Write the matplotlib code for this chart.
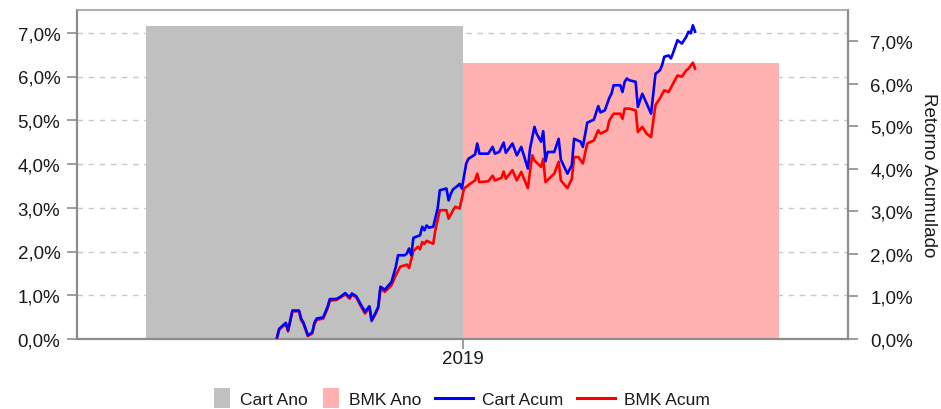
import matplotlib
matplotlib.use("Agg")
import matplotlib.pyplot as plt
from matplotlib.patches import Patch, Rectangle
from matplotlib.lines import Line2D
from matplotlib.legend_handler import HandlerPatch
from matplotlib.ticker import FuncFormatter, FixedLocator

plt.rcParams['font.family'] = ['Liberation Sans', 'DejaVu Sans']

# ---- data ----
categorias = ["2019"]
cart_ano = [7.16]
bmk_ano = [6.32]

dias_cart = [0, 1, 4, 5, 7, 10, 11, 12, 14, 16, 17, 18, 21, 23, 24, 27, 29, 31, 33, 34,
             36, 38, 40, 42, 43, 45, 46, 47, 49, 52, 54, 55, 58, 59, 60, 61, 62, 65, 66, 67,
             68, 69, 71, 73, 74, 77, 78, 79, 80, 82, 83, 84, 86, 87, 90, 91, 92, 96, 98, 99,
             101, 103, 104, 107, 109, 111, 114, 115, 117, 118, 120, 121, 122, 123, 126, 128, 129, 132, 134, 135,
             138, 139, 141, 144, 146, 147, 149, 151, 152, 153, 156, 157, 158, 159, 160, 163, 164, 166, 168, 170,
             171, 172, 174, 175, 176, 178, 179, 180, 182, 184, 186, 187, 188, 189, 190]
cart_acum = [0.04, 0.24, 0.38, 0.20, 0.67, 0.67, 0.47, 0.39, 0.09, 0.15, 0.38, 0.48, 0.51, 0.76, 0.94, 0.94, 1.00, 1.08, 0.98, 1.07,
             1.01, 0.82, 0.64, 0.77, 0.44, 0.64, 0.76, 1.23, 1.16, 1.34, 1.70, 1.97, 1.97, 2.01, 2.13, 1.97, 2.38, 2.44, 2.64, 2.56,
             2.67, 2.62, 2.64, 3.07, 3.50, 3.54, 3.26, 3.42, 3.52, 3.60, 3.65, 3.54, 4.13, 4.24, 4.34, 4.60, 4.36, 4.36, 4.52, 4.36,
             4.40, 4.62, 4.38, 4.60, 4.32, 4.52, 4.01, 4.48, 4.99, 4.83, 4.64, 4.89, 4.18, 4.40, 4.40, 4.71, 4.22, 3.89, 4.09, 4.71,
             4.64, 4.52, 5.09, 5.16, 5.48, 5.33, 5.38, 5.67, 5.77, 5.97, 5.97, 5.81, 6.05, 6.13, 6.09, 6.05, 5.46, 5.77, 5.54, 5.30,
             5.77, 6.24, 6.32, 6.44, 6.64, 6.67, 6.60, 6.73, 7.03, 6.95, 7.11, 7.23, 7.19, 7.38, 7.23]

dias_bmk = [0, 1, 4, 5, 7, 10, 11, 12, 14, 16, 17, 18, 21, 23, 24, 27, 29, 31, 33, 34,
            36, 38, 40, 42, 43, 45, 46, 47, 49, 52, 54, 56, 59, 60, 62, 64, 65, 66, 67, 68,
            71, 72, 74, 77, 78, 80, 81, 83, 85, 88, 90, 91, 92, 96, 98, 99, 102, 103, 104, 107,
            109, 111, 114, 116, 117, 120, 121, 122, 126, 128, 129, 132, 134, 135, 137, 139, 141, 144, 146, 147,
            150, 151, 153, 156, 157, 158, 160, 163, 164, 166, 168, 170, 172, 174, 176, 178, 180, 182, 184, 186,
            187, 189, 190]
bmk_acum = [0.03, 0.22, 0.36, 0.18, 0.65, 0.65, 0.44, 0.36, 0.07, 0.13, 0.35, 0.45, 0.48, 0.72, 0.90, 0.92, 0.98, 1.05, 0.95, 1.04,
            0.98, 0.78, 0.60, 0.74, 0.42, 0.61, 0.73, 1.18, 1.11, 1.26, 1.50, 1.70, 1.75, 1.67, 2.07, 2.17, 2.11, 2.28, 2.24, 2.31,
            2.24, 2.57, 3.03, 3.03, 2.83, 3.03, 3.11, 3.07, 3.54, 3.66, 3.73, 3.89, 3.69, 3.71, 3.84, 3.73, 3.79, 3.94, 3.77, 3.97,
            3.73, 3.93, 3.55, 4.32, 4.20, 4.05, 4.24, 3.69, 3.89, 4.17, 3.73, 3.55, 3.77, 4.28, 4.28, 4.13, 4.60, 4.67, 4.91, 4.83,
            4.91, 5.14, 5.30, 5.30, 5.18, 5.42, 5.42, 5.38, 4.87, 4.99, 4.83, 4.75, 5.50, 5.66, 5.85, 5.81, 6.01, 6.20, 6.17, 6.32,
            6.36, 6.50, 6.36]

# ---- style ----
GRAY = "#c0c0c0"
PINK = "#ffb0b0"
SPINE = "#8c8c8c"
TXT = "#1a1a1a"

fig = plt.figure(figsize=(9.41, 4.10), dpi=100)
pos = [77 / 941, 1 - 340 / 410, (848 - 77) / 941, (340 - 11) / 410]
ax = fig.add_axes(pos)

w = 0.41
xs = list(range(len(categorias)))
ax.bar([x - w / 2 for x in xs], cart_ano, width=w, color=GRAY, zorder=2)
ax.bar([x + w / 2 for x in xs], bmk_ano, width=w, color=PINK, zorder=2)
ax.set_xlim(-0.5, 0.5)
ax.set_ylim(0, 7.52)
ax.set_xticks(xs)
ax.set_xticklabels(categorias)
ax.yaxis.set_major_locator(FixedLocator([0, 1, 2, 3, 4, 5, 6, 7]))
fmt = FuncFormatter(lambda v, p: f"{v:.1f}%".replace('.', ','))
ax.yaxis.set_major_formatter(fmt)
ax.grid(axis='y', color="#c8c8c8", linestyle=(0, (4, 4)), linewidth=1.0, zorder=0)
ax.set_axisbelow(True)
ax.tick_params(axis='y', length=7, width=1.2, color=SPINE, pad=5, labelsize=13.5, labelcolor=TXT)
ax.tick_params(axis='x', length=7, width=1.2, color=SPINE, pad=0.8, labelsize=13.5, labelcolor=TXT)
for s in ['left', 'bottom', 'right']:
    ax.spines[s].set_color(SPINE)
    ax.spines[s].set_linewidth(1.6)
ax.spines['top'].set_color("#a0a0a0")
ax.spines['top'].set_linewidth(1.2)

ax2 = fig.add_axes(pos, frameon=False)
ax2.plot(dias_bmk, bmk_acum, color="#ff0000", lw=1.9, zorder=3)
ax2.plot(dias_cart, cart_acum, color="#0000ff", lw=1.9, zorder=4)
ax2.set_xlim(-90.9, 259.5)
ax2.set_ylim(0, 7.74)
ax2.set_xticks([])
ax2.yaxis.tick_right()
ax2.yaxis.set_label_position('right')
ax2.yaxis.set_major_locator(FixedLocator([0, 1, 2, 3, 4, 5, 6, 7]))
ax2.yaxis.set_major_formatter(fmt)
ax2.tick_params(axis='y', length=7, width=1.2, color=SPINE, pad=9, labelsize=13.5, labelcolor=TXT,
                left=False, right=True)
ax2.set_ylabel("Retorno Acumulado", rotation=270, fontsize=13.5, labelpad=17, color=TXT)


class SquareHandler(HandlerPatch):
    def create_artists(self, legend, orig_handle, xdescent, ydescent, width, height, fontsize, trans):
        side = 14.4  # points
        y0 = -ydescent + height / 2 - side / 2
        r = Rectangle((-xdescent, y0), width, side,
                      facecolor=orig_handle.get_facecolor(), edgecolor='none', transform=trans)
        return [r]


LFS = 12.5
patch_handles = [Patch(color=GRAY), Patch(color=PINK)]
patch_labels = ["Cart Ano", "BMK Ano"]
line_handles = [Line2D([], [], color="#0000ff", lw=2.2), Line2D([], [], color="#ff0000", lw=2.2)]
line_labels = ["Cart Acum", "BMK Acum"]

leg1 = fig.legend(patch_handles, patch_labels, loc='center', bbox_to_anchor=(318 / 941, 0.024), ncol=2,
                  frameon=False, fontsize=LFS, handlelength=0.92, handletextpad=0.58, columnspacing=0.86,
                  handler_map={Patch: SquareHandler()}, labelcolor=TXT)
leg2 = fig.legend(line_handles, line_labels, loc='center', bbox_to_anchor=(572.5 / 941, 0.024), ncol=2,
                  frameon=False, fontsize=LFS, handlelength=2.19, handletextpad=0.52, columnspacing=0.8,
                  labelcolor=TXT)

fig.savefig("out.png", dpi=100)
